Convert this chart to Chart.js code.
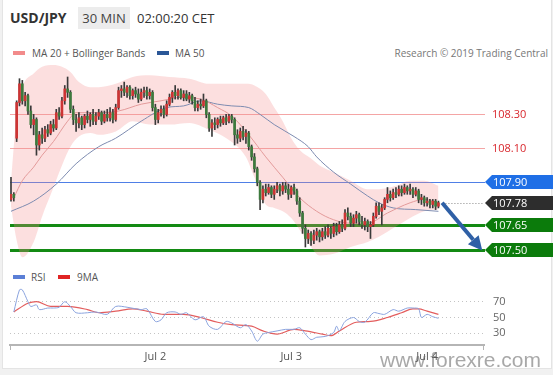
<!DOCTYPE html>
<html>
<head>
<meta charset="utf-8">
<script src="https://cdn.jsdelivr.net/npm/chart.js@4.4.0/dist/chart.umd.min.js"></script>
<style>
  html, body { margin: 0; padding: 0; background: #f1f1f1; }
  body { width: 553px; height: 375px; overflow: hidden; position: relative; font-family: "Open Sans", sans-serif; color: #333; }
  .card { position: absolute; left: 2px; top: 0; width: 548px; height: 368px; background: #fff; border: 1px solid #e4e4e4; border-top: none; }
  .abs { position: absolute; white-space: nowrap; }
  #pair { left: 10px; top: 8px; font-size: 14px; font-weight: bold; line-height: 20px; color: #333; }
  #tf { left: 78px; top: 7px; width: 52px; height: 22px; line-height: 22px; text-align: center; background: #ececec; font-size: 13px; color: #444; }
  #time { left: 137px; top: 8px; font-size: 13px; line-height: 20px; color: #333; }
  .legend { font-size: 10px; line-height: 14px; color: #555; }
  .sw { position: absolute; width: 12px; height: 4px; }
  #research { right: 5px; top: 46px; font-size: 10px; line-height: 14px; color: #777; }
  canvas { position: absolute; left: 0; }
  #mainChart { top: 60px; }
  #rsiChart { top: 284px; }
  #mark { left: 380px; top: 349px; font-family: "Liberation Sans", sans-serif; font-size: 21px; line-height: 21px; color: rgba(110,110,110,0.6); z-index: 5; }
</style>
</head>
<body>
<div class="card"></div>

<!-- header -->
<div class="abs" id="pair">USD/JPY</div>
<div class="abs" id="tf">30 MIN</div>
<div class="abs" id="time">02:00:20 CET</div>

<!-- price panel legend -->
<div class="sw" style="left:13px; top:51px; background:#f28b8b;"></div>
<div class="abs legend" style="left:32px; top:46px;">MA 20 + Bollinger Bands</div>
<div class="sw" style="left:157px; top:51px; background:#2b5797;"></div>
<div class="abs legend" style="left:175px; top:46px;">MA 50</div>
<div class="abs" id="research">Research © 2019 Trading Central</div>

<canvas id="mainChart" width="553" height="204"></canvas>

<!-- RSI legend -->
<div class="sw" style="left:13px; top:275px; background:#5b7fd6;"></div>
<div class="abs legend" style="left:31px; top:270px;">RSI</div>
<div class="sw" style="left:58px; top:275px; background:#e02424;"></div>
<div class="abs legend" style="left:77px; top:270px;">9MA</div>

<canvas id="rsiChart" width="553" height="91"></canvas>

<div class="abs" id="mark">www.forexre.com</div>

<script>
// ===== 30 min candles (index 0 = first bar, Jul 4 02:00 = last) =====
const open = [
  107.80, 107.83, 108.16, 108.37, 108.48, 108.38, 108.41, 108.32, 108.24, 108.27,
  108.12, 108.18, 108.16, 108.21, 108.19, 108.24, 108.22, 108.31, 108.29, 108.38,
  108.45, 108.43, 108.33, 108.27, 108.25, 108.28, 108.24, 108.29, 108.27, 108.30,
  108.26, 108.29, 108.31, 108.26, 108.30, 108.28, 108.31, 108.27, 108.34, 108.44,
  108.45, 108.43, 108.46, 108.41, 108.44, 108.42, 108.39, 108.43, 108.44, 108.41,
  108.43, 108.34, 108.27, 108.31, 108.33, 108.30, 108.36, 108.40, 108.43, 108.41,
  108.44, 108.40, 108.42, 108.39, 108.41, 108.38, 108.34, 108.36, 108.35, 108.38,
  108.30, 108.22, 108.25, 108.24, 108.27, 108.25, 108.28, 108.26, 108.29, 108.27,
  108.18, 108.16, 108.20, 108.17, 108.19, 108.11, 108.05, 107.98, 107.90, 107.80,
  107.86, 107.84, 107.87, 107.83, 107.86, 107.88, 107.85, 107.88, 107.86, 107.83,
  107.87, 107.85, 107.79, 107.72, 107.63, 107.57, 107.60, 107.56, 107.59, 107.61,
  107.58, 107.61, 107.59, 107.63, 107.60, 107.64, 107.61, 107.65, 107.63, 107.72,
  107.70, 107.66, 107.69, 107.71, 107.67, 107.65, 107.67, 107.64, 107.65, 107.70,
  107.76, 107.73, 107.75, 107.80, 107.83, 107.81, 107.84, 107.83, 107.86, 107.84,
  107.87, 107.85, 107.86, 107.83, 107.85, 107.80, 107.81, 107.78, 107.79, 107.77,
  107.79, 107.76
];
const high = [
  107.93, 107.84, 108.38, 108.51, 108.50, 108.43, 108.42, 108.35, 108.30, 108.28,
  108.20, 108.22, 108.23, 108.24, 108.26, 108.27, 108.33, 108.34, 108.40, 108.47,
  108.52, 108.44, 108.35, 108.30, 108.31, 108.29, 108.30, 108.32, 108.31, 108.33,
  108.31, 108.33, 108.32, 108.32, 108.33, 108.34, 108.33, 108.36, 108.46, 108.47,
  108.49, 108.47, 108.47, 108.45, 108.46, 108.45, 108.45, 108.46, 108.46, 108.45,
  108.44, 108.36, 108.33, 108.35, 108.35, 108.38, 108.42, 108.44, 108.47, 108.45,
  108.45, 108.44, 108.44, 108.43, 108.42, 108.40, 108.38, 108.39, 108.42, 108.39,
  108.31, 108.27, 108.28, 108.28, 108.29, 108.29, 108.30, 108.30, 108.30, 108.28,
  108.21, 108.22, 108.23, 108.21, 108.20, 108.12, 108.07, 107.99, 107.91, 107.88,
  107.89, 107.89, 107.88, 107.88, 107.90, 107.89, 107.90, 107.90, 107.89, 107.88,
  107.89, 107.86, 107.81, 107.73, 107.65, 107.62, 107.61, 107.62, 107.63, 107.62,
  107.63, 107.64, 107.65, 107.64, 107.66, 107.66, 107.67, 107.68, 107.74, 107.75,
  107.72, 107.71, 107.73, 107.72, 107.70, 107.69, 107.68, 107.67, 107.72, 107.78,
  107.78, 107.77, 107.81, 107.87, 107.85, 107.86, 107.87, 107.88, 107.88, 107.89,
  107.88, 107.89, 107.87, 107.87, 107.86, 107.83, 107.82, 107.81, 107.80, 107.80,
  107.80, 107.79
];
const low = [
  107.79, 107.79, 108.14, 108.35, 108.36, 108.35, 108.30, 108.22, 108.18, 108.06,
  108.09, 108.13, 108.14, 108.17, 108.18, 108.20, 108.21, 108.27, 108.28, 108.36,
  108.40, 108.31, 108.24, 108.20, 108.22, 108.21, 108.22, 108.25, 108.23, 108.24,
  108.24, 108.27, 108.24, 108.25, 108.26, 108.26, 108.25, 108.26, 108.33, 108.40,
  108.41, 108.40, 108.39, 108.39, 108.40, 108.37, 108.38, 108.40, 108.39, 108.39,
  108.32, 108.24, 108.25, 108.29, 108.28, 108.29, 108.35, 108.37, 108.39, 108.39,
  108.39, 108.38, 108.38, 108.37, 108.36, 108.32, 108.32, 108.33, 108.34, 108.28,
  108.20, 108.17, 108.21, 108.22, 108.23, 108.24, 108.24, 108.25, 108.25, 108.12,
  108.13, 108.14, 108.15, 108.13, 108.09, 108.03, 107.96, 107.88, 107.74, 107.78,
  107.82, 107.83, 107.81, 107.80, 107.84, 107.82, 107.83, 107.84, 107.80, 107.81,
  107.83, 107.77, 107.70, 107.60, 107.52, 107.54, 107.53, 107.54, 107.56, 107.55,
  107.56, 107.57, 107.58, 107.57, 107.58, 107.59, 107.60, 107.61, 107.62, 107.68,
  107.64, 107.64, 107.66, 107.65, 107.63, 107.62, 107.61, 107.57, 107.64, 107.69,
  107.71, 107.65, 107.74, 107.78, 107.79, 107.80, 107.81, 107.82, 107.82, 107.83,
  107.83, 107.83, 107.81, 107.82, 107.78, 107.77, 107.76, 107.76, 107.75, 107.75,
  107.74, 107.75
];
const close = [
  107.83, 107.81, 108.37, 108.48, 108.38, 108.41, 108.32, 108.24, 108.27, 108.12,
  108.18, 108.16, 108.21, 108.19, 108.24, 108.22, 108.31, 108.29, 108.38, 108.45,
  108.43, 108.33, 108.27, 108.25, 108.28, 108.24, 108.29, 108.27, 108.30, 108.26,
  108.29, 108.31, 108.26, 108.30, 108.28, 108.31, 108.27, 108.34, 108.44, 108.45,
  108.43, 108.46, 108.41, 108.44, 108.42, 108.39, 108.43, 108.44, 108.41, 108.43,
  108.34, 108.27, 108.31, 108.33, 108.30, 108.36, 108.40, 108.43, 108.41, 108.44,
  108.40, 108.42, 108.39, 108.41, 108.38, 108.34, 108.36, 108.35, 108.38, 108.30,
  108.22, 108.25, 108.24, 108.27, 108.25, 108.28, 108.26, 108.29, 108.27, 108.18,
  108.16, 108.20, 108.17, 108.19, 108.11, 108.05, 107.98, 107.90, 107.80, 107.86,
  107.84, 107.87, 107.83, 107.86, 107.88, 107.85, 107.88, 107.86, 107.83, 107.87,
  107.85, 107.79, 107.72, 107.63, 107.57, 107.60, 107.56, 107.59, 107.61, 107.58,
  107.61, 107.59, 107.63, 107.60, 107.64, 107.61, 107.65, 107.63, 107.72, 107.70,
  107.66, 107.69, 107.71, 107.67, 107.65, 107.67, 107.64, 107.65, 107.70, 107.76,
  107.73, 107.75, 107.80, 107.83, 107.81, 107.84, 107.83, 107.86, 107.84, 107.87,
  107.85, 107.86, 107.83, 107.85, 107.80, 107.81, 107.78, 107.79, 107.77, 107.79,
  107.76, 107.78
];

// Bollinger bands (MA 20 +/- 2 sd), read at these bar indexes
const bandIdx = [0, 2, 4, 8, 11, 15, 18, 21, 24, 28, 31, 37, 43, 49, 56, 63, 70, 77, 83, 86,
  90, 93, 96, 99, 102, 106, 109, 114, 120, 126, 130, 136, 141, 146, 151];
const bandUpper = [107.90, 108.30, 108.46, 108.54, 108.58, 108.59, 108.58, 108.55, 108.49, 108.46,
  108.46, 108.48, 108.52, 108.53, 108.52, 108.51, 108.48, 108.48, 108.48, 108.47,
  108.42, 108.34, 108.26, 108.16, 108.09, 108.04, 108.00, 107.96, 107.91, 107.86,
  107.86, 107.88, 107.91, 107.91, 107.88];
const bandLower = [107.76, 107.56, 107.46, 107.55, 107.70, 107.87, 108.00, 108.11, 108.17, 108.19,
  108.18, 108.20, 108.26, 108.24, 108.24, 108.25, 108.21, 108.15, 108.05, 107.93,
  107.77, 107.75, 107.73, 107.69, 107.62, 107.52, 107.47, 107.48, 107.52, 107.55,
  107.58, 107.64, 107.69, 107.73, 107.74];

const ma20Idx = [1, 4, 8, 11, 15, 20, 23, 31, 38, 46, 53, 60, 67, 73, 78, 84, 90, 96, 102, 108,
  114, 120, 126, 133, 141, 146, 151];
const ma20Val = [107.81, 107.91, 107.99, 108.06, 108.14, 108.26, 108.31, 108.31, 108.32, 108.36,
  108.38, 108.40, 108.39, 108.34, 108.29, 108.18, 108.05, 107.93, 107.81, 107.73,
  107.68, 107.66, 107.66, 107.72, 107.78, 107.80, 107.78];

const ma50Idx = [0, 8, 16, 23, 31, 37, 46, 55, 61, 67, 73, 78, 84, 88, 93, 100, 105, 108, 114, 120,
  126, 130, 135, 143, 151];
const ma50Val = [107.73, 107.79, 107.89, 108.01, 108.11, 108.16, 108.26, 108.34, 108.35, 108.38,
  108.36, 108.35, 108.34, 108.30, 108.24, 108.17, 108.11, 108.05, 107.96, 107.89,
  107.82, 107.78, 107.75, 107.74, 107.73];

// RSI + its 9 period MA
const rsiIdx = [1, 3, 4, 6, 7, 9, 10, 13, 15, 17, 19, 21, 23, 27, 30, 34, 37, 41, 46, 48,
  51, 53, 55, 58, 60, 62, 65, 68, 70, 73, 76, 78, 81, 83, 85, 87, 89, 91, 94, 97,
  100, 102, 104, 106, 108, 111, 114, 115, 116, 118, 121, 123, 125, 128, 130, 132, 135, 137, 140, 142,
  144, 145, 147, 149, 151];
const rsiVal = [57, 85, 85, 70, 64, 66, 60, 62, 62, 63, 70, 64, 56, 56, 57, 54, 64, 63, 60, 61,
  45, 47, 56, 57, 54, 56, 47, 51, 39, 35, 45, 43, 37, 41, 33, 20, 29, 31, 33, 35,
  35, 37, 29, 22, 25, 26, 31, 39, 33, 45, 50, 45, 44, 56, 55, 54, 60, 58, 62, 62,
  61, 50, 54, 51, 49];
const rsiMaIdx = [1, 6, 9, 14, 20, 27, 31, 37, 43, 48, 54, 61, 67, 73, 78, 85, 89, 94, 100, 104,
  110, 113, 116, 122, 127, 133, 138, 142, 144, 147, 151];
const rsiMaVal = [57, 68, 70, 64, 64, 60, 56, 58, 61, 58, 54, 54, 50, 44, 41, 39, 33, 29, 35, 33,
  29, 27, 33, 44, 45, 50, 56, 61, 61, 58, 54];

// axis ticks
const dayIdx = [51, 99, 147];
const dayLabels = ["Jul 2", "Jul 3", "Jul 4"];
const rsiTicks = [30, 50, 70];

// Trading Central levels
const levelPrices = [108.30, 108.10, 107.90, 107.65, 107.50];
const levelColors = ["#f4a5a5", "#f4a5a5", "#4f7fe6", "#138a13", "#138a13"];
const levelWidths = [1, 1, 1, 3, 3];
const textLevels = [108.30, 108.10];
const tagPrices = [107.90, 107.78, 107.65, 107.50];
const tagColors = ["#1f6fe6", "#2d2d2d", "#0b7b0b", "#0b7b0b"];
const lastIdx = 151;
const lastPrice = 107.78;
const arrowFrom = [152.3, 107.78];
const arrowTo = [166.5, 107.50];

// shared x range so both panels line up
const X_MIN = -0.35, X_MAX = 167.1;

Chart.defaults.font.family = '"Open Sans", sans-serif';
Chart.defaults.animation = false;

const pts = (xs, ys) => xs.map((v, k) => ({ x: v, y: ys[k] }));
const UP = "#cd3434", DOWN = "#3d7a3d";
const candleCol = close.map((c, i) => (c >= open[i] ? UP : DOWN));

const levelsPlugin = {
  id: "levels",
  beforeDatasetsDraw(chart) {
    const { ctx, chartArea: a, scales: { y } } = chart;
    ctx.save();
    levelPrices.forEach((p, k) => {
      const w = levelWidths[k];
      const py = Math.round(y.getPixelForValue(p)) + (w % 2 ? 0.5 : 0);
      ctx.strokeStyle = levelColors[k];
      ctx.lineWidth = w;
      ctx.beginPath();
      ctx.moveTo(a.left, py);
      ctx.lineTo(a.right + 1, py);
      ctx.stroke();
    });
    ctx.restore();
  },
  afterDatasetsDraw(chart) {
    const { ctx, chartArea: a, scales: { x, y } } = chart;
    ctx.save();

    // dotted line from the last bar to the price tag
    const ly = Math.round(y.getPixelForValue(lastPrice)) + 0.5;
    ctx.strokeStyle = "#888";
    ctx.lineWidth = 1;
    ctx.setLineDash([1, 2]);
    ctx.beginPath();
    ctx.moveTo(x.getPixelForValue(lastIdx) + 4, ly);
    ctx.lineTo(a.right, ly);
    ctx.stroke();
    ctx.setLineDash([]);

    // expected move arrow
    const x0 = x.getPixelForValue(arrowFrom[0]), y0 = y.getPixelForValue(arrowFrom[1]);
    const x1 = x.getPixelForValue(arrowTo[0]), y1 = y.getPixelForValue(arrowTo[1]);
    const ang = Math.atan2(y1 - y0, x1 - x0);
    const head = 14, half = 7;
    const bx = x1 - head * Math.cos(ang), by = y1 - head * Math.sin(ang);
    ctx.strokeStyle = ctx.fillStyle = "#2f60a6";
    ctx.lineWidth = 4;
    ctx.beginPath();
    ctx.moveTo(x0, y0);
    ctx.lineTo(bx, by);
    ctx.stroke();
    ctx.beginPath();
    ctx.moveTo(x1, y1);
    ctx.lineTo(bx + half * Math.sin(ang), by - half * Math.cos(ang));
    ctx.lineTo(bx - half * Math.sin(ang), by + half * Math.cos(ang));
    ctx.closePath();
    ctx.fill();

    // red resistance labels
    ctx.font = '11px "Open Sans", sans-serif';
    ctx.textBaseline = "middle";
    ctx.textAlign = "left";
    ctx.fillStyle = "#d8262c";
    textLevels.forEach(p => ctx.fillText(p.toFixed(2), a.right + 8, y.getPixelForValue(p)));

    // price tags
    const tipX = a.right + 1, right = chart.width;
    tagPrices.forEach((p, k) => {
      const cy = Math.round(y.getPixelForValue(p));
      ctx.fillStyle = tagColors[k];
      ctx.beginPath();
      ctx.moveTo(tipX, cy);
      ctx.lineTo(tipX + 7, cy - 7);
      ctx.lineTo(right, cy - 7);
      ctx.lineTo(right, cy + 7);
      ctx.lineTo(tipX + 7, cy + 7);
      ctx.closePath();
      ctx.fill();
      ctx.fillStyle = "#fff";
      ctx.fillText(p.toFixed(2), tipX + 8, cy + 0.5);
    });
    ctx.restore();
  }
};

new Chart(document.getElementById("mainChart"), {
  type: "bar",
  data: {
    datasets: [
      {
        type: "bar",
        label: "wick",
        data: low.map((l, i) => ({ x: i, y: [l, high[i]] })),
        backgroundColor: "#3a3a3a",
        barThickness: 1,
        grouped: false,
        order: 2
      },
      {
        type: "bar",
        label: "body",
        data: open.map((o, i) => ({ x: i, y: [o, close[i]] })),
        backgroundColor: candleCol,
        barThickness: 2,
        minBarLength: 1,
        grouped: false,
        order: 1
      },
      {
        type: "line",
        label: "MA 50",
        data: pts(ma50Idx, ma50Val),
        borderColor: "#7d8bb0",
        borderWidth: 1,
        pointRadius: 0,
        cubicInterpolationMode: "monotone",
        order: 4
      },
      {
        type: "line",
        label: "MA 20",
        data: pts(ma20Idx, ma20Val),
        borderColor: "#e39a9a",
        borderWidth: 1,
        pointRadius: 0,
        cubicInterpolationMode: "monotone",
        order: 3
      },
      {
        type: "line",
        label: "BB upper",
        data: pts(bandIdx, bandUpper),
        borderWidth: 0,
        borderColor: "rgba(0,0,0,0)",
        backgroundColor: "rgba(244,140,140,0.28)",
        pointRadius: 0,
        cubicInterpolationMode: "monotone",
        fill: "+1",
        order: 10
      },
      {
        type: "line",
        label: "BB lower",
        data: pts(bandIdx, bandLower),
        borderWidth: 0,
        borderColor: "rgba(0,0,0,0)",
        pointRadius: 0,
        cubicInterpolationMode: "monotone",
        fill: false,
        order: 11
      }
    ]
  },
  options: {
    responsive: false,
    layout: { padding: { left: 10, right: 69, top: 0, bottom: 0 } },
    plugins: { legend: { display: false }, tooltip: { enabled: false } },
    scales: {
      x: { type: "linear", min: X_MIN, max: X_MAX, offset: false, display: false },
      y: { min: 107.42, max: 108.62, display: false }
    }
  },
  plugins: [levelsPlugin]
});

// small end ticks on the time axis
const axisEnds = {
  id: "axisEnds",
  afterDraw(chart) {
    const { ctx, chartArea: a } = chart;
    ctx.save();
    ctx.strokeStyle = "#b5b5b5";
    ctx.lineWidth = 1;
    [a.left + 0.5, a.right - 0.5].forEach(px => {
      ctx.beginPath();
      ctx.moveTo(px, a.bottom);
      ctx.lineTo(px, a.bottom + 5);
      ctx.stroke();
    });
    ctx.restore();
  }
};

new Chart(document.getElementById("rsiChart"), {
  type: "line",
  data: {
    datasets: [
      {
        label: "RSI",
        data: pts(rsiIdx, rsiVal),
        borderColor: "#8aa3de",
        borderWidth: 1,
        pointRadius: 0,
        tension: 0.3
      },
      {
        label: "9MA",
        data: pts(rsiMaIdx, rsiMaVal),
        borderColor: "#e35d5d",
        borderWidth: 1.2,
        pointRadius: 0,
        cubicInterpolationMode: "monotone"
      }
    ]
  },
  options: {
    responsive: false,
    layout: { padding: { left: 10, right: 0, top: 0, bottom: 0 } },
    plugins: { legend: { display: false }, tooltip: { enabled: false } },
    scales: {
      x: {
        type: "linear",
        min: X_MIN,
        max: X_MAX,
        grid: { display: false, drawTicks: false },
        border: { display: true, color: "#b5b5b5", width: 2 },
        afterBuildTicks: s => { s.ticks = dayIdx.map(v => ({ value: v })); },
        afterFit: s => { s.height = 30; s.paddingLeft = s.paddingRight = 0; },
        ticks: {
          autoSkip: false,
          maxRotation: 0,
          padding: 5,
          color: "#555",
          font: { size: 11 },
          callback: (v, i) => dayLabels[i]
        }
      },
      y: {
        position: "right",
        min: 15.2,
        max: 92.4,
        grid: { color: "#c4c4c4", drawTicks: false },
        border: { display: false, dash: [1, 3] },
        afterBuildTicks: s => { s.ticks = rsiTicks.map(v => ({ value: v })); },
        afterFit: s => { s.width = 69; s.paddingTop = s.paddingBottom = 0; },
        ticks: { padding: 9, color: "#666", font: { size: 11 } }
      }
    }
  },
  plugins: [axisEnds]
});
</script>
</body>
</html>
